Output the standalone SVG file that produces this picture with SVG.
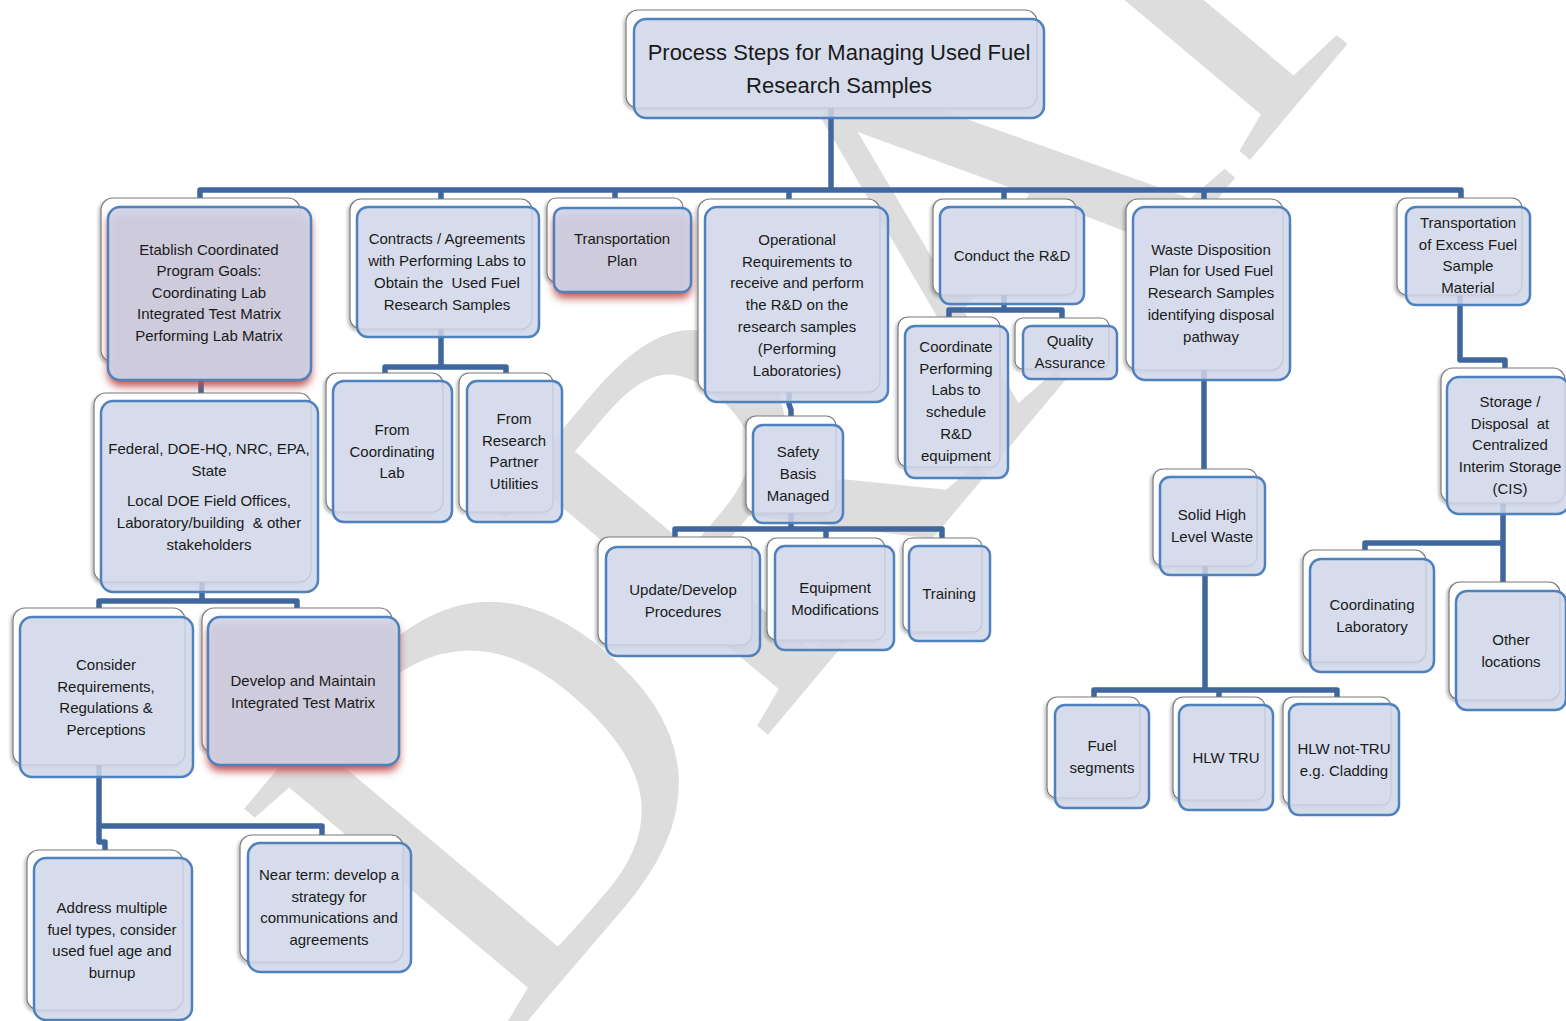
<svg xmlns="http://www.w3.org/2000/svg" width="1566" height="1021" viewBox="0 0 1566 1021">
<defs>
<filter id="bsh" x="-10%" y="-10%" width="120%" height="120%"><feDropShadow dx="-2" dy="2" stdDeviation="1.5" flood-color="#000" flood-opacity="0.25"/></filter>
<filter id="rblur" x="-20%" y="-20%" width="140%" height="140%"><feGaussianBlur stdDeviation="4"/></filter>
</defs>
<style>
.wm{font-family:"Liberation Serif","Times New Roman",serif;font-size:540px;fill:#dddddd}
.bk{fill:#fff;stroke:#7a7a7a;stroke-width:1.2;filter:url(#bsh)}
.fr{fill:#cfd6e8;fill-opacity:.85;stroke:#4f81bd;stroke-width:2.5}
.pf{fill:#cfd6e8;fill-opacity:.92;stroke:#4f81bd;stroke-width:2.5}
.rs{fill:#c0504d;filter:url(#rblur)}
.c{fill:none;stroke:#3f679d;stroke-width:5.5;stroke-linejoin:round}
.t{font-family:"Liberation Sans",Arial,sans-serif;font-size:15px;fill:#1a1a1a;text-anchor:middle}
.tt{font-size:22px}
.pre{white-space:pre}
</style>
<rect width="1566" height="1021" fill="#fff"/>
<text class="wm" x="505" y="1048" transform="rotate(-50 505 1048)">DRAFT</text>

<g id="connectors">
<path class="c" d="M831,108 V190"/>
<path class="c" d="M200,198 V190 H1461 V198"/>
<path class="c" d="M441,190 V199 M615,190 V198 M789,190 V199 M1004,190 V199 M1204,190 V199"/>
<path class="c" d="M201,362 V393"/>
<path class="c" d="M202,582 V601 M99,608 V601 H297 V608"/>
<path class="c" d="M99,765 V826 H322 V835 M99,826 V842 H105 V850"/>
<path class="c" d="M441,329 V367 M385,373 V367 H506 V373"/>
<path class="c" d="M789,392 V404 L791,410 V416"/>
<path class="c" d="M791,513 V529 M675,537 V529 H942 V538 M826,529 V538"/>
<path class="c" d="M1004,295 V310 M949,317 V310 H1062 V318"/>
<path class="c" d="M1204,370 V469"/>
<path class="c" d="M1205,566 V690 M1094,697 V690 H1337 V697 M1219,690 V697"/>
<path class="c" d="M1460,295 V360 H1505 V368"/>
<path class="c" d="M1503,503 V582 M1503,543 H1365 V550"/>
</g>

<g id="n-title">
<rect class="bk" x="626" y="10" width="411" height="98" rx="12"/>
<rect class="fr" x="634" y="19" width="410" height="99" rx="12"/>
<text class="t tt" x="839"><tspan x="839" y="60">Process Steps for Managing Used Fuel</tspan><tspan x="839" y="93">Research Samples</tspan></text>
</g>

<g id="n-etablish">
<rect class="bk" x="101" y="198" width="199" height="164" rx="12"/>
<rect class="rs" x="108" y="213" width="203" height="173" rx="12"/>
<rect class="pf" x="108" y="207" width="203" height="173" rx="12"/>
<text class="t"><tspan x="209" y="255">Etablish Coordinated</tspan><tspan x="209" y="276">Program Goals:</tspan><tspan x="209" y="298">Coordinating Lab</tspan><tspan x="209" y="319">Integrated Test Matrix</tspan><tspan x="209" y="341">Performing Lab Matrix</tspan></text>
</g>

<g id="n-contracts">
<rect class="bk" x="350" y="199" width="182" height="130" rx="11"/>
<rect class="fr" x="357" y="207" width="182" height="130" rx="11"/>
<text class="t pre"><tspan x="447" y="244">Contracts / Agreements</tspan><tspan x="447" y="266">with Performing Labs to</tspan><tspan x="447" y="288">Obtain the  Used Fuel</tspan><tspan x="447" y="310">Research Samples</tspan></text>
</g>

<g id="n-transplan">
<rect class="bk" x="547" y="198" width="136" height="84" rx="9"/>
<rect class="rs" x="554" y="214" width="137" height="84" rx="9"/>
<rect class="pf" x="554" y="208" width="137" height="84" rx="9"/>
<text class="t"><tspan x="622" y="244">Transportation</tspan><tspan x="622" y="266">Plan</tspan></text>
</g>

<g id="n-operational">
<rect class="bk" x="698" y="199" width="182" height="193" rx="12"/>
<rect class="fr" x="705" y="207" width="183" height="195" rx="12"/>
<text class="t"><tspan x="797" y="245">Operational</tspan><tspan x="797" y="267">Requirements to</tspan><tspan x="797" y="288">receive and perform</tspan><tspan x="797" y="310">the R&amp;D on the</tspan><tspan x="797" y="332">research samples</tspan><tspan x="797" y="354">(Performing</tspan><tspan x="797" y="376">Laboratories)</tspan></text>
</g>

<g id="n-conduct">
<rect class="bk" x="933" y="199" width="143" height="96" rx="10"/>
<rect class="fr" x="940" y="207" width="144" height="97" rx="10"/>
<text class="t"><tspan x="1012" y="261">Conduct the R&amp;D</tspan></text>
</g>

<g id="n-waste">
<rect class="bk" x="1126" y="199" width="157" height="171" rx="12"/>
<rect class="fr" x="1133" y="207" width="157" height="173" rx="12"/>
<text class="t"><tspan x="1211" y="255">Waste Disposition</tspan><tspan x="1211" y="276">Plan for Used Fuel</tspan><tspan x="1211" y="298">Research Samples</tspan><tspan x="1211" y="320">identifying disposal</tspan><tspan x="1211" y="342">pathway</tspan></text>
</g>

<g id="n-transexcess">
<rect class="bk" x="1397" y="198" width="125" height="97" rx="10"/>
<rect class="fr" x="1406" y="207" width="124" height="98" rx="10"/>
<text class="t"><tspan x="1468" y="228">Transportation</tspan><tspan x="1468" y="250">of Excess Fuel</tspan><tspan x="1468" y="271">Sample</tspan><tspan x="1468" y="293">Material</tspan></text>
</g>

<g id="n-federal">
<rect class="bk" x="94" y="393" width="217" height="189" rx="12"/>
<rect class="fr" x="101" y="401" width="217" height="191" rx="12"/>
<text class="t pre"><tspan x="209" y="454">Federal, DOE-HQ, NRC, EPA,</tspan><tspan x="209" y="476">State</tspan><tspan x="209" y="506">Local DOE Field Offices,</tspan><tspan x="209" y="528">Laboratory/building  &amp; other</tspan><tspan x="209" y="550">stakeholders</tspan></text>
</g>

<g id="n-fromcoord">
<rect class="bk" x="326" y="373" width="117" height="139" rx="11"/>
<rect class="fr" x="333" y="381" width="119" height="141" rx="11"/>
<text class="t"><tspan x="392" y="435">From</tspan><tspan x="392" y="457">Coordinating</tspan><tspan x="392" y="478">Lab</tspan></text>
</g>

<g id="n-fromresearch">
<rect class="bk" x="459" y="373" width="94" height="139" rx="10"/>
<rect class="fr" x="467" y="381" width="95" height="141" rx="10"/>
<text class="t"><tspan x="514" y="424">From</tspan><tspan x="514" y="446">Research</tspan><tspan x="514" y="467">Partner</tspan><tspan x="514" y="489">Utilities</tspan></text>
</g>

<g id="n-coordperf">
<rect class="bk" x="898" y="317" width="102" height="150" rx="10"/>
<rect class="fr" x="905" y="326" width="103" height="152" rx="10"/>
<text class="t"><tspan x="956" y="352">Coordinate</tspan><tspan x="956" y="374">Performing</tspan><tspan x="956" y="395">Labs to</tspan><tspan x="956" y="417">schedule</tspan><tspan x="956" y="439">R&amp;D</tspan><tspan x="956" y="461">equipment</tspan></text>
</g>

<g id="n-qa">
<rect class="bk" x="1015" y="318" width="94" height="51" rx="8"/>
<rect class="fr" x="1023" y="326" width="94" height="53" rx="8"/>
<text class="t"><tspan x="1070" y="346">Quality</tspan><tspan x="1070" y="368">Assurance</tspan></text>
</g>

<g id="n-safety">
<rect class="bk" x="746" y="416" width="90" height="97" rx="10"/>
<rect class="fr" x="753" y="425" width="90" height="98" rx="10"/>
<text class="t"><tspan x="798" y="457">Safety</tspan><tspan x="798" y="479">Basis</tspan><tspan x="798" y="501">Managed</tspan></text>
</g>

<g id="n-update">
<rect class="bk" x="598" y="537" width="154" height="108" rx="11"/>
<rect class="fr" x="606" y="547" width="154" height="109" rx="11"/>
<text class="t"><tspan x="683" y="595">Update/Develop</tspan><tspan x="683" y="617">Procedures</tspan></text>
</g>

<g id="n-equip">
<rect class="bk" x="767" y="538" width="118" height="102" rx="10"/>
<rect class="fr" x="775" y="546" width="119" height="104" rx="10"/>
<text class="t"><tspan x="835" y="593">Equipment</tspan><tspan x="835" y="615">Modifications</tspan></text>
</g>

<g id="n-training">
<rect class="bk" x="903" y="538" width="79" height="94" rx="9"/>
<rect class="fr" x="909" y="546" width="81" height="95" rx="9"/>
<text class="t"><tspan x="949" y="599">Training</tspan></text>
</g>

<g id="n-solid">
<rect class="bk" x="1153" y="469" width="104" height="97" rx="10"/>
<rect class="fr" x="1160" y="477" width="105" height="98" rx="10"/>
<text class="t"><tspan x="1212" y="520">Solid High</tspan><tspan x="1212" y="542">Level Waste</tspan></text>
</g>

<g id="n-storage">
<rect class="bk" x="1441" y="368" width="124" height="135" rx="12"/>
<rect class="fr" x="1447" y="377" width="122" height="137" rx="12"/>
<text class="t pre"><tspan x="1510" y="407">Storage /</tspan><tspan x="1510" y="429">Disposal  at</tspan><tspan x="1510" y="450">Centralized</tspan><tspan x="1510" y="472">Interim Storage</tspan><tspan x="1510" y="494">(CIS)</tspan></text>
</g>

<g id="n-coordlab">
<rect class="bk" x="1303" y="550" width="123" height="112" rx="11"/>
<rect class="fr" x="1310" y="559" width="124" height="113" rx="11"/>
<text class="t"><tspan x="1372" y="610">Coordinating</tspan><tspan x="1372" y="632">Laboratory</tspan></text>
</g>

<g id="n-other">
<rect class="bk" x="1449" y="582" width="111" height="118" rx="11"/>
<rect class="fr" x="1456" y="591" width="110" height="119" rx="11"/>
<text class="t"><tspan x="1511" y="645">Other</tspan><tspan x="1511" y="667">locations</tspan></text>
</g>

<g id="n-consider">
<rect class="bk" x="13" y="608" width="172" height="157" rx="12"/>
<rect class="fr" x="20" y="617" width="173" height="160" rx="12"/>
<text class="t"><tspan x="106" y="670">Consider</tspan><tspan x="106" y="692">Requirements,</tspan><tspan x="106" y="713">Regulations &amp;</tspan><tspan x="106" y="735">Perceptions</tspan></text>
</g>

<g id="n-develop">
<rect class="bk" x="202" y="608" width="190" height="145" rx="12"/>
<rect class="rs" x="208" y="623" width="191" height="148" rx="12"/>
<rect class="pf" x="208" y="617" width="191" height="148" rx="12"/>
<text class="t"><tspan x="303" y="686">Develop and Maintain</tspan><tspan x="303" y="708">Integrated Test Matrix</tspan></text>
</g>

<g id="n-address">
<rect class="bk" x="27" y="850" width="156" height="160" rx="12"/>
<rect class="fr" x="34" y="858" width="158" height="162" rx="12"/>
<text class="t"><tspan x="112" y="913">Address multiple</tspan><tspan x="112" y="935">fuel types, consider</tspan><tspan x="112" y="956">used fuel age and</tspan><tspan x="112" y="978">burnup</tspan></text>
</g>

<g id="n-nearterm">
<rect class="bk" x="240" y="835" width="163" height="127" rx="12"/>
<rect class="fr" x="248" y="843" width="163" height="129" rx="12"/>
<text class="t"><tspan x="329" y="880">Near term: develop a</tspan><tspan x="329" y="902">strategy for</tspan><tspan x="329" y="923">communications and</tspan><tspan x="329" y="945">agreements</tspan></text>
</g>

<g id="n-fuelseg">
<rect class="bk" x="1047" y="697" width="93" height="101" rx="10"/>
<rect class="fr" x="1055" y="705" width="94" height="103" rx="10"/>
<text class="t"><tspan x="1102" y="751">Fuel</tspan><tspan x="1102" y="773">segments</tspan></text>
</g>

<g id="n-hlwtru">
<rect class="bk" x="1173" y="697" width="92" height="103" rx="10"/>
<rect class="fr" x="1179" y="705" width="94" height="105" rx="10"/>
<text class="t"><tspan x="1226" y="763">HLW TRU</tspan></text>
</g>

<g id="n-hlwnottru">
<rect class="bk" x="1283" y="697" width="108" height="108" rx="10"/>
<rect class="fr" x="1289" y="704" width="110" height="111" rx="10"/>
<text class="t"><tspan x="1344" y="754">HLW not-TRU</tspan><tspan x="1344" y="776">e.g. Cladding</tspan></text>
</g>
</svg>
